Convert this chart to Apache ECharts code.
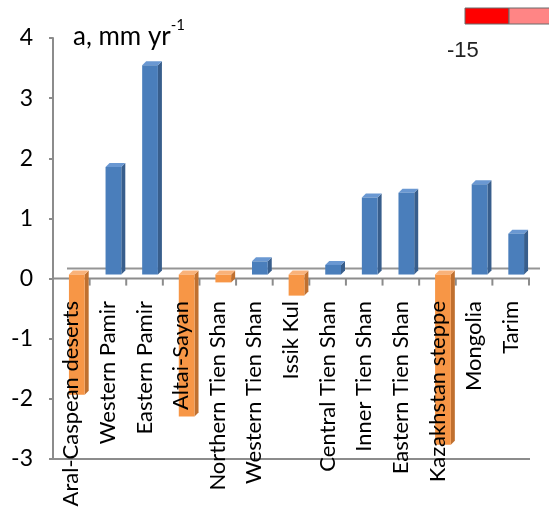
<!DOCTYPE html>
<html>
<head>
<meta charset="utf-8">
<script src="https://cdn.jsdelivr.net/npm/echarts@6/dist/echarts.min.js"></script>
<style>
html,body{margin:0;padding:0;background:#fff;}
#chart{width:549px;height:513px;}
</style>
</head>
<body>
<div id="chart"></div>
<script>
const categories = ['Aral-Caspean deserts','Western Pamir','Eastern Pamir','Altai-Sayan','Northern Tien Shan','Western Tien Shan','Issik Kul','Central Tien Shan','Inner Tien Shan','Eastern Tien Shan','Kazakhstan steppe','Mongolia','Tarim'];
const values = [-2.0, 1.79, 3.48, -2.36, -0.13, 0.22, -0.35, 0.16, 1.28, 1.36, -2.83, 1.50, 0.68];
const yTicks = {min: -3, max: 4, interval: 1};

const FONT = 'Lato';
const chart = echarts.init(document.getElementById('chart'), null, {renderer: 'canvas'});

function renderBar(params, api) {
  const i = api.value(0), v = api.value(1);
  const base = api.coord([i, 0]);
  const top = api.coord([i, v]);
  const band = api.size([1, 0])[0];
  const w = band * 0.43;
  const ox = 5.5, oy = -4, dx = 4, dy = -4;
  const x0 = base[0] + ox - w / 2, x1 = x0 + w;
  const yb = base[1] + oy, yt = top[1] + oy;
  const yH = Math.min(yb, yt), yL = Math.max(yb, yt);
  const pos = v >= 0;
  const front = pos ? '#4A7EBB' : '#F79646';
  const side = pos ? '#385E8C' : '#C0702F';
  const topc = pos ? '#6A98D2' : '#F9B27A';
  return {
    type: 'group',
    children: [
      {type: 'polygon', shape: {points: [[x1, yH], [x1 + dx, yH + dy], [x1 + dx, yL + dy], [x1, yL]]}, style: {fill: side}},
      {type: 'polygon', shape: {points: [[x0, yH], [x0 + dx, yH + dy], [x1 + dx, yH + dy], [x1, yH]]}, style: {fill: topc}},
      {type: 'rect', shape: {x: x0, y: yH, width: w, height: yL - yH}, style: {fill: front}}
    ]
  };
}

function renderFrame(params, api) {
  const cs = params.coordSys;
  const y0 = api.coord([0, 0])[1];
  const band = api.size([1, 0])[0];
  const grey = '#8C8C8C';
  const children = [
    {type: 'line', shape: {x1: cs.x + 14, y1: y0 - 10, x2: cs.x + cs.width + 11, y2: y0 - 10}, style: {stroke: '#959595', lineWidth: 2}},
    {type: 'line', shape: {x1: cs.x, y1: cs.y + cs.height, x2: cs.x + cs.width + 1, y2: cs.y + cs.height}, style: {stroke: grey, lineWidth: 2}},
    {type: 'line', shape: {x1: cs.x, y1: y0, x2: cs.x + cs.width + 1, y2: y0}, style: {stroke: grey, lineWidth: 2}}
  ];
  for (let k = 0; k <= categories.length; k++) {
    const x = cs.x + k * band;
    children.push({type: 'line', shape: {x1: x, y1: y0, x2: x, y2: y0 + 7}, style: {stroke: grey, lineWidth: 2}});
  }
  return {type: 'group', children};
}

chart.setOption({
  animation: false,
  backgroundColor: '#fff',
  grid: {left: 53, right: 20, top: 38, bottom: 54, containLabel: false, outerBoundsMode: 'none'},
  title: {
    text: '{a|a, mm yr}{s|-1}',
    left: 68, top: 13, padding: 5,
    textStyle: {
      rich: {
        a: {fontFamily: FONT, fontSize: 26, fontWeight: 'normal', color: '#000', lineHeight: 32, verticalAlign: 'bottom'},
        s: {fontFamily: FONT, fontSize: 15, fontWeight: 'normal', color: '#000', lineHeight: 32, verticalAlign: 'top'}
      }
    }
  },
  xAxis: {
    type: 'category', data: categories, z: 10, position: 'bottom', offset: -180,
    axisLine: {show: false, onZero: false},
    axisTick: {show: false},
    axisLabel: {interval: 0, rotate: 90, margin: 22, fontFamily: FONT, fontSize: 22, color: '#000'}
  },
  yAxis: {
    type: 'value', min: yTicks.min, max: yTicks.max, interval: yTicks.interval,
    axisLine: {show: true, lineStyle: {color: '#8C8C8C', width: 2}},
    axisTick: {show: true, length: 4, lineStyle: {color: '#8C8C8C', width: 2}},
    splitLine: {show: false},
    axisLabel: {margin: 20, fontFamily: FONT, fontSize: 23, color: '#000'}
  },
  series: [
    {type: 'custom', z: 1, data: [[0, 0]], renderItem: renderFrame, silent: true},
    {type: 'custom', z: 2, data: values.map((v, i) => [i, v]), renderItem: renderBar, encode: {x: 0, y: 1}}
  ],
  graphic: [
    {type: 'rect', shape: {x: 465, y: 8, width: 44, height: 16}, style: {fill: '#FF0000', stroke: '#6b6b6b', lineWidth: 1}},
    {type: 'rect', shape: {x: 509, y: 8, width: 50, height: 16}, style: {fill: '#FF8585', stroke: '#6b6b6b', lineWidth: 1}},
    {type: 'text', x: 447, y: 40, style: {text: '-15', font: '22px "Liberation Sans"', fill: '#222'}}
  ]
});
</script>
</body>
</html>
